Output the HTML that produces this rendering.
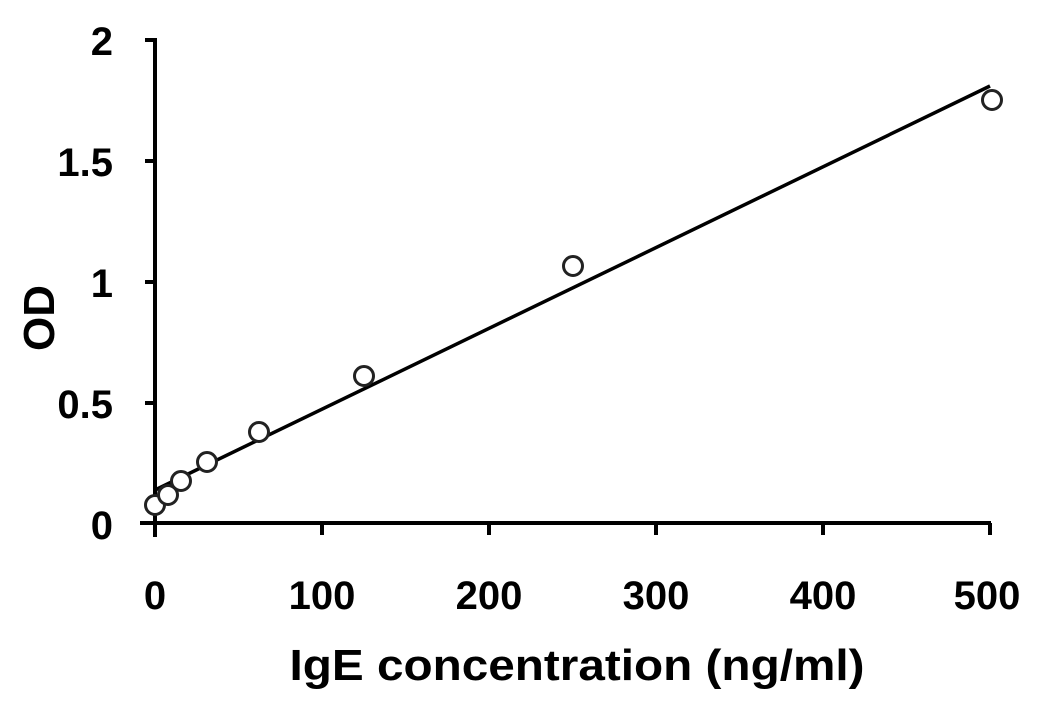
<!DOCTYPE html>
<html><head><style>body{margin:0;background:#fff}</style></head><body>
<svg width="1052" height="698" xmlns="http://www.w3.org/2000/svg" font-family="Liberation Sans, sans-serif" font-weight="bold">
<g stroke="#000" stroke-width="4" fill="none">
<line x1="155" y1="38" x2="155" y2="537"/>
<line x1="140" y1="523" x2="991" y2="523"/>
<line x1="145" y1="40" x2="155" y2="40"/>
<line x1="145" y1="161" x2="155" y2="161"/>
<line x1="145" y1="282" x2="155" y2="282"/>
<line x1="145" y1="403" x2="155" y2="403"/>
<line x1="322" y1="523" x2="322" y2="535"/>
<line x1="489" y1="523" x2="489" y2="535"/>
<line x1="656" y1="523" x2="656" y2="535"/>
<line x1="823" y1="523" x2="823" y2="535"/>
<line x1="990" y1="523" x2="990" y2="535"/>
<line x1="155" y1="490" x2="990" y2="86" stroke-width="3.5"/>
</g>
<g stroke="#222" stroke-width="3" fill="#fff">
<circle cx="155" cy="505" r="9.5"/><circle cx="168" cy="495" r="9.5"/><circle cx="181" cy="481" r="9.5"/>
<circle cx="207" cy="462" r="9.5"/><circle cx="259" cy="432" r="9.5"/><circle cx="364" cy="376" r="9.5"/>
<circle cx="573" cy="266" r="9.5"/><circle cx="992" cy="100" r="9.5"/>
</g>
<g font-size="40" text-anchor="end">
<text x="113" y="55">2</text><text x="113" y="176">1.5</text><text x="113" y="297">1</text>
<text x="113" y="418">0.5</text><text x="113" y="539">0</text>
</g>
<g font-size="40" text-anchor="middle">
<text x="155" y="609">0</text><text x="322" y="609">100</text><text x="489" y="609">200</text>
<text x="656" y="609">300</text><text x="823" y="609">400</text><text x="987" y="609">500</text>
<text x="577" y="680" font-size="44" textLength="575" lengthAdjust="spacingAndGlyphs">IgE concentration (ng/ml)</text>
<text transform="translate(54,318) rotate(-90)" font-size="44">OD</text>
</g>
</svg>
</body></html>
